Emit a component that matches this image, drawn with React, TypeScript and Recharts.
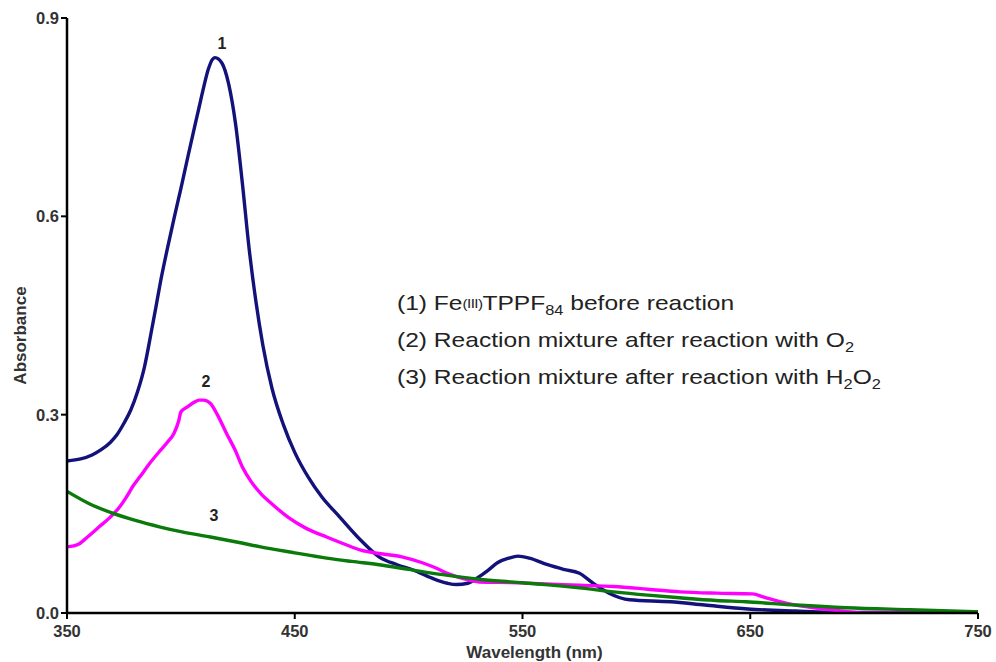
import { LineChart, Line, XAxis, YAxis, ReferenceDot } from 'recharts';

// curve 1: Fe(III)TPPF84 before reaction
const wl1 = [350, 356, 361, 365, 369, 372, 375, 378, 381, 384, 387, 389, 391, 394, 397, 400, 403, 406, 408, 410, 412, 414, 415, 418, 421, 424, 427, 430, 433, 436, 440, 445, 450, 456, 462, 469, 479, 487, 495, 502, 510, 517, 521, 526, 531, 535, 539, 544, 548, 553, 561, 568, 575, 581, 588, 597, 615, 630, 649, 670, 692, 720, 750];
const abs1 = [0.230, 0.233, 0.239, 0.247, 0.258, 0.270, 0.287, 0.307, 0.335, 0.372, 0.425, 0.462, 0.500, 0.550, 0.597, 0.642, 0.689, 0.735, 0.765, 0.795, 0.822, 0.838, 0.840, 0.832, 0.800, 0.740, 0.650, 0.550, 0.470, 0.405, 0.340, 0.285, 0.243, 0.205, 0.175, 0.148, 0.110, 0.085, 0.073, 0.065, 0.053, 0.045, 0.043, 0.045, 0.055, 0.065, 0.076, 0.083, 0.086, 0.083, 0.073, 0.066, 0.060, 0.045, 0.030, 0.020, 0.017, 0.012, 0.006, 0.003, 0.001, 0.001, 0.001];

// curve 2: after reaction with O2
const wl2 = [350, 355, 359, 364, 369, 373, 376, 379, 382, 386, 391, 394, 397, 399, 400, 403, 406, 408, 410, 413, 416, 420, 424, 427, 431, 435, 440, 447, 455, 464, 472, 479, 487, 497, 506, 512, 517, 524, 531, 545, 560, 575, 590, 605, 619, 635, 651, 656, 663, 670, 678, 690, 700, 720, 750];
const abs2 = [0.100, 0.104, 0.115, 0.130, 0.145, 0.160, 0.175, 0.192, 0.206, 0.225, 0.246, 0.258, 0.272, 0.290, 0.304, 0.312, 0.319, 0.322, 0.322, 0.317, 0.300, 0.272, 0.245, 0.221, 0.198, 0.181, 0.165, 0.145, 0.128, 0.115, 0.104, 0.095, 0.090, 0.085, 0.076, 0.068, 0.060, 0.052, 0.047, 0.046, 0.044, 0.042, 0.040, 0.036, 0.032, 0.030, 0.029, 0.024, 0.017, 0.012, 0.008, 0.003, 0.000, 0.000, 0.000];

// curve 3: after reaction with H2O2
const wl3 = [350, 360, 370, 380, 391, 400, 413, 425, 435, 450, 464, 475, 487, 500, 515, 531, 545, 560, 575, 590, 605, 619, 635, 648, 670, 692, 720, 750];
const abs3 = [0.184, 0.165, 0.151, 0.140, 0.130, 0.123, 0.115, 0.107, 0.100, 0.091, 0.083, 0.078, 0.073, 0.066, 0.058, 0.051, 0.047, 0.043, 0.038, 0.032, 0.027, 0.023, 0.019, 0.017, 0.012, 0.008, 0.005, 0.002];

const xTicks = [350, 450, 550, 650, 750];
const yTicks = [0, 0.3, 0.6, 0.9];

const toPoints = (wl: number[], abs: number[]) => wl.map((w, i) => ({ wl: w, abs: abs[i] }));

const font = '"Liberation Sans", Arial, sans-serif';
const tickStyle = { fill: '#333', fontSize: 16.5, fontWeight: 700, fontFamily: font };

const peakLabel = (text: string) => ({
  value: text,
  position: 'center' as const,
  fill: '#222',
  fontSize: 16,
  fontWeight: 700,
  fontFamily: font,
});

const sub = { fontSize: 14, position: 'relative' as const, top: 5, lineHeight: 0 };
const row = { height: 37, lineHeight: '37px' };

export default function App() {
  return (
    <div style={{ position: 'absolute', left: 0, top: 0, width: 996, height: 662, background: '#fff' }}>
      <LineChart width={996} height={662} margin={{ top: 18, right: 18, bottom: 0, left: 0 }}>
        <XAxis
          type="number"
          dataKey="wl"
          domain={[350, 750]}
          ticks={xTicks}
          allowDataOverflow
          height={49}
          tick={tickStyle}
          tickSize={6}
          tickMargin={6}
          axisLine={{ stroke: '#000', strokeWidth: 2.5 }}
          tickLine={{ stroke: '#000', strokeWidth: 2 }}
          label={{
            content: ({ viewBox }: any) => (
              <text x={viewBox.x + viewBox.width / 2 + 12} y={viewBox.y + 45} textAnchor="middle"
                fill="#333" fontSize={17} fontWeight={700} fontFamily={font}>
                Wavelength (nm)
              </text>
            ),
          }}
        />
        <YAxis
          type="number"
          dataKey="abs"
          domain={[0, 0.9]}
          ticks={yTicks}
          allowDataOverflow
          width={67}
          tick={tickStyle}
          tickSize={6}
          tickMargin={2}
          tickFormatter={(v: number) => v.toFixed(1)}
          axisLine={{ stroke: '#000', strokeWidth: 2.5 }}
          tickLine={{ stroke: '#000', strokeWidth: 2 }}
          label={{
            content: ({ viewBox }: any) => {
              const cx = 26;
              const cy = viewBox.y + viewBox.height / 2 + 20;
              return (
                <text x={cx} y={cy} textAnchor="middle" transform={`rotate(-90, ${cx}, ${cy})`}
                  fill="#333" fontSize={17} fontWeight={700} fontFamily={font}>
                  Absorbance
                </text>
              );
            },
          }}
        />
        <Line data={toPoints(wl1, abs1)} dataKey="abs" type="monotone" stroke="#12127a" strokeWidth={3.4} dot={false} isAnimationActive={false} />
        <Line data={toPoints(wl2, abs2)} dataKey="abs" type="monotone" stroke="#ff00ff" strokeWidth={3.4} dot={false} isAnimationActive={false} />
        <Line data={toPoints(wl3, abs3)} dataKey="abs" type="monotone" stroke="#0a7a0a" strokeWidth={3.4} dot={false} isAnimationActive={false} />
        <ReferenceDot x={418} y={0.862} r={0} ifOverflow="visible" label={peakLabel('1')} />
        <ReferenceDot x={411} y={0.350} r={0} ifOverflow="visible" label={peakLabel('2')} />
        <ReferenceDot x={414.5} y={0.148} r={0} ifOverflow="visible" label={peakLabel('3')} />
      </LineChart>
      <div style={{ position: 'absolute', left: 397, top: 284, fontFamily: font, fontSize: 21, color: '#222', whiteSpace: 'nowrap', transform: 'scaleX(1.17)', transformOrigin: 'left top' }}>
        <div style={row}>
          (1) Fe<span style={{ fontSize: 13, letterSpacing: -0.5, position: 'relative', top: -2 }}>(III)</span>TPPF<span style={sub}>84</span> before reaction
        </div>
        <div style={row}>
          (2) Reaction mixture after reaction with O<span style={sub}>2</span>
        </div>
        <div style={row}>
          (3) Reaction mixture after reaction with H<span style={sub}>2</span>O<span style={sub}>2</span>
        </div>
      </div>
    </div>
  );
}
